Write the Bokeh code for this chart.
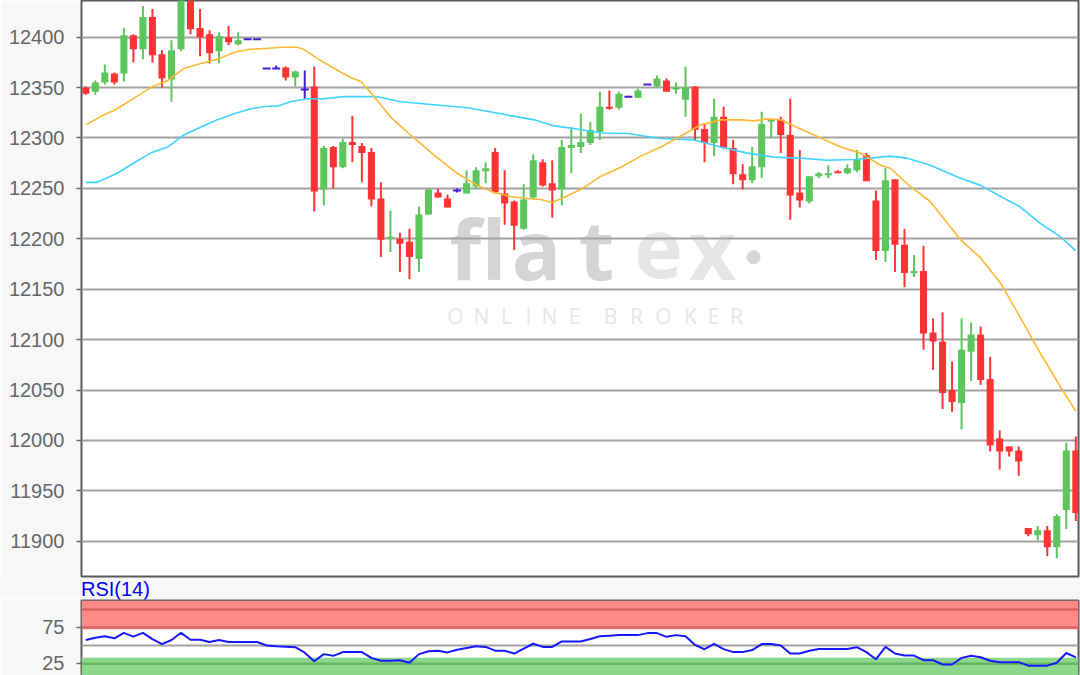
import numpy as np
from bokeh.plotting import figure
from bokeh.models import ColumnDataSource, FixedTicker, Range1d, Span, Div, Label, BoxAnnotation
from bokeh.layouts import column
from bokeh.embed import file_html
from bokeh.resources import INLINE

# ---------------- data ----------------
opens = [12350, 12346, 12355, 12364, 12364, 12402, 12388, 12420, 12383, 12358,
         12388, 12440, 12409, 12403, 12386, 12400, 12393, 12398, 12398, 12369,
         12369, 12370, 12360, 12348, 12351, 12249, 12291, 12271, 12296, 12292,
         12286, 12240, 12200, 12200, 12197, 12180, 12224, 12246, 12240, 12248,
         12245, 12252, 12267, 12286, 12245, 12237, 12210, 12241, 12276, 12255,
         12249, 12290, 12291, 12295, 12306, 12331, 12330, 12341, 12340, 12353,
         12351, 12357, 12348, 12338, 12351, 12309, 12295, 12321, 12290, 12264,
         12258, 12271, 12316, 12318, 12303, 12246, 12237, 12262, 12263, 12267,
         12265, 12268, 12283, 12238, 12188, 12259, 12194, 12166, 12168, 12107,
         12098, 12050, 12037, 12088, 12105, 12061, 12002, 11994, 11990, 11913,
         11906, 11911, 11894, 11931, 11990]
highs = [12351, 12357, 12373, 12365, 12409, 12403, 12431, 12428, 12387, 12397,
         12446, 12448, 12428, 12407, 12405, 12411, 12405, 12398, 12398, 12369,
         12372, 12371, 12367, 12367, 12371, 12292, 12292, 12299, 12322, 12295,
         12290, 12256, 12228, 12206, 12210, 12232, 12250, 12250, 12244, 12250,
         12268, 12271, 12276, 12290, 12268, 12238, 12254, 12284, 12279, 12278,
         12298, 12311, 12324, 12316, 12346, 12347, 12346, 12342, 12349, 12353,
         12362, 12359, 12355, 12371, 12351, 12315, 12339, 12331, 12298, 12274,
         12291, 12326, 12318, 12321, 12339, 12288, 12262, 12266, 12273, 12268,
         12274, 12288, 12285, 12248, 12270, 12259, 12210, 12184, 12193, 12121,
         12127, 12078, 12121, 12117, 12113, 12083, 12010, 11994, 11994, 11913,
         11915, 11915, 11927, 11998, 12004]
lows = [12343, 12343, 12353, 12353, 12356, 12375, 12378, 12375, 12350, 12336,
        12386, 12403, 12381, 12374, 12374, 12392, 12392, 12398, 12398, 12369,
        12369, 12357, 12351, 12339, 12227, 12233, 12250, 12270, 12276, 12256,
        12232, 12182, 12187, 12167, 12160, 12167, 12224, 12241, 12231, 12246,
        12245, 12250, 12255, 12245, 12214, 12189, 12209, 12239, 12252, 12221,
        12233, 12265, 12285, 12293, 12298, 12328, 12328, 12341, 12340, 12353,
        12350, 12346, 12344, 12321, 12298, 12276, 12282, 12289, 12254, 12249,
        12255, 12260, 12300, 12285, 12219, 12231, 12235, 12260, 12260, 12265,
        12264, 12266, 12257, 12179, 12177, 12167, 12152, 12162, 12090, 12070,
        12031, 12028, 12011, 12059, 12055, 11989, 11971, 11984, 11965, 11905,
        11901, 11885, 11883, 11912, 11920]
closes = [12344, 12355, 12365, 12355, 12402, 12388, 12420, 12382, 12359, 12387,
          12440, 12408, 12400, 12384, 12401, 12395, 12397, 12398, 12398, 12369,
          12369, 12360, 12366, 12348, 12247, 12290, 12271, 12296, 12293, 12285,
          12239, 12199, 12202, 12195, 12182, 12224, 12249, 12241, 12231, 12248,
          12255, 12268, 12270, 12246, 12235, 12213, 12239, 12278, 12253, 12248,
          12291, 12293, 12296, 12308, 12331, 12329, 12344, 12341, 12347, 12353,
          12359, 12346, 12350, 12350, 12308, 12295, 12321, 12290, 12264, 12258,
          12272, 12314, 12318, 12303, 12243, 12238, 12262, 12265, 12265, 12265,
          12270, 12279, 12257, 12188, 12258, 12194, 12166, 12168, 12106, 12098,
          12047, 12038, 12090, 12105, 12060, 11995, 11989, 11989, 11979, 11907,
          11911, 11894, 11925, 11990, 11928]

# short moving average (orange), read at bar positions
ma_fast_idx = [0, 1.5, 3.3, 5.0, 6.8, 8.6, 10.3, 12.1, 13.8, 15.6, 17.3, 19.1, 20.8, 22.2,
               22.9, 24.3, 26.1, 27.8, 28.9, 30.3, 32.0, 34.1, 36.6, 39.0, 41.1, 42.9,
               44.6, 46.4, 47.8, 49.0, 50.2, 52.0, 54.1, 56.2, 58.3, 60.4, 62.5, 64.6,
               66.7, 68.8, 70.2, 71.6, 73.0, 75.1, 77.2, 79.3, 81.4, 83.5, 84.5, 86.6,
               88.7, 91.9, 94.0, 96.1, 98.1, 100.3, 102.4, 104.0]
ma_fast = [12313, 12321, 12329, 12339, 12350, 12357, 12369, 12374, 12378, 12385, 12388,
           12389, 12390, 12390, 12388, 12379, 12369, 12360, 12356, 12341, 12321, 12303,
           12283, 12265, 12253, 12246, 12242, 12240, 12239, 12236, 12241, 12249, 12262,
           12271, 12282, 12291, 12302, 12313, 12318, 12318, 12317, 12319, 12318, 12309,
           12300, 12291, 12285, 12273, 12270, 12252, 12237, 12199, 12181, 12156, 12123,
           12086, 12053, 12029]

# long moving average (cyan)
ma_slow_idx = [0, 1.2, 3.3, 5.0, 6.8, 8.6, 10.3, 12.1, 13.8, 15.6, 17.3, 19.1, 20.1, 21.5,
               23.3, 25.0, 27.1, 30.6, 33.1, 36.6, 40.1, 43.6, 47.1, 49.2, 51.6, 54.1,
               56.9, 60.4, 63.9, 66.7, 69.5, 72.3, 75.1, 77.9, 80.7, 83.5, 84.5, 86.3,
               88.7, 91.9, 94.0, 96.1, 98.1, 100.3, 102.4, 104.0]
ma_slow = [12256, 12256, 12265, 12275, 12285, 12291, 12303, 12311, 12318, 12324, 12329,
           12331.5, 12331.5, 12336, 12339, 12339, 12341, 12341, 12336, 12333, 12330,
           12324, 12318, 12312, 12309, 12305, 12304.5, 12299.5, 12298, 12291, 12285,
           12281, 12280, 12278, 12278.6, 12281, 12282, 12280, 12273, 12260, 12253,
           12242, 12232, 12215, 12202, 12188]

# RSI(14), one value per bar
rsi = [57.6, 60.8, 62.8, 60.0, 67.6, 62.4, 67.6, 58.8, 52.0, 57.6,
       67.6, 58.0, 58.0, 54.8, 57.6, 54.8, 54.8, 54.8, 54.8, 50.0,
       48.8, 48.4, 47.6, 40.0, 28.0, 38.0, 35.6, 40.8, 40.8, 40.8,
       32.8, 28.8, 28.8, 29.6, 26.0, 38.0, 42.0, 42.8, 40.4, 44.0,
       46.5, 48.8, 48.0, 42.8, 42.8, 38.8, 45.6, 52.4, 48.0, 48.0,
       55.6, 55.6, 55.6, 59.0, 62.8, 63.6, 64.4, 64.4, 64.4, 67.2,
       67.2, 62.0, 64.4, 62.8, 50.8, 44.8, 52.4, 45.0, 40.8, 40.8,
       43.6, 52.0, 52.0, 50.0, 38.8, 38.8, 42.8, 45.2, 45.2, 45.2,
       45.2, 47.6, 40.8, 30.8, 48.0, 38.8, 36.0, 36.0, 29.6, 29.6,
       23.6, 23.6, 32.8, 35.6, 33.6, 28.8, 26.8, 26.8, 26.8, 22.0,
       22.0, 22.0, 26.0, 39.6, 33.6]

price_ticks = [11900, 11950, 12000, 12050, 12100, 12150, 12200, 12250, 12300, 12350, 12400]
rsi_ticks = [25, 75]
rsi_mid = 50
rsi_upper = [75, 100]
rsi_lower = 25
rsi_title = "RSI(14)"
logo_main = ["f", "l", "a", "t", "e", "x"]
logo_sub = "ONLINE BROKER"

# ---------------- layout constants (window pixels) ----------------
W = 1080
FRAME_L, FRAME_R = 81, 1078
FRAME_TOP = 0
MAIN_FRAME_H = 576
MAIN_H = MAIN_FRAME_H + 2
GAP_H = 21
RSI_H = 675 - MAIN_H - GAP_H   # 76
XR = (-0.452, 104.28)
YR = (11865.0, 12436.4)
RSI_R = (8.3, 112.5)

UP, DOWN, DOJI = "#5cc55c", "#ff3333", "#4020d0"
BG = "#f7f7f7"
GRID = "#a2a2a2"
FRAME = "#5a5a5a"
TXT = "#666666"
FONT = "Liberation Sans"

o = np.array(opens, float)
h = np.array(highs, float)
l = np.array(lows, float)
c = np.array(closes, float)
idx = np.arange(len(o))
col = [UP if cc > oo else (DOWN if cc < oo else DOJI) for oo, cc in zip(o, c)]

src = ColumnDataSource(dict(x=idx, h=h, l=l, col=col))
body_mask = np.array([cc != oo for oo, cc in zip(o, c)])
body_src = ColumnDataSource(dict(x=idx[body_mask], top=np.maximum(o, c)[body_mask],
                                 bot=np.minimum(o, c)[body_mask],
                                 col=[cl for cl, m in zip(col, body_mask) if m]))
doji_src = ColumnDataSource(dict(x=idx[~body_mask], y=o[~body_mask]))


def style_axis(fig, ticks):
    fig.yaxis.ticker = FixedTicker(ticks=ticks)
    fig.yaxis.axis_line_color = None
    fig.yaxis.major_tick_out = 5
    fig.yaxis.major_tick_in = 0
    fig.yaxis.minor_tick_line_color = None
    fig.yaxis.major_tick_line_color = TXT
    fig.yaxis.major_tick_line_width = 1.5
    fig.yaxis.major_label_text_font = FONT
    fig.yaxis.major_label_text_font_size = "20px"
    fig.yaxis.major_label_text_color = TXT
    fig.yaxis.major_label_standoff = 12


# ---------------- main price panel ----------------
p = figure(width=W, height=MAIN_H, x_range=Range1d(*XR), y_range=Range1d(*YR),
           output_backend="svg", toolbar_location=None, title=None,
           x_axis_location=None, min_border_left=FRAME_L, min_border_right=W - FRAME_R,
           min_border_top=0, min_border_bottom=2,
           background_fill_color="white", border_fill_color=BG,
           outline_line_color=FRAME, outline_line_width=2)
style_axis(p, price_ticks)
p.xgrid.visible = False
p.ygrid.ticker = FixedTicker(ticks=price_ticks)
p.ygrid.grid_line_color = GRID
p.ygrid.grid_line_width = 2


def px_x(px):
    return XR[0] + (px - FRAME_L) * (XR[1] - XR[0]) / (FRAME_R - FRAME_L)


def px_y(py):
    return YR[1] - (py - FRAME_TOP) * (YR[1] - YR[0]) / MAIN_FRAME_H


# watermark (under the grid); label anchor sits ~0.37 em below the glyph baseline
logo_px = [465, 493.5, 536, 596, 658, 712]
for ch, xp in zip(logo_main, logo_px):
    p.add_layout(Label(x=px_x(xp), y=px_y(247), text=ch, text_font="Open Sans",
                       text_font_size="82px", text_font_style="bold", text_align="center",
                       text_baseline="alphabetic",
                       text_color="#d4d4d4" if ch in "flat" else "#e6e6e6", level="image"))
dot = p.scatter([px_x(753)], [px_y(256.7)], size=13, color="#d6d6d6")
dot.level = "image"
sub_px = [455, 481, 506, 528, 549, 574, 610, 636, 663, 690, 713, 736]
for ch, xp in zip(logo_sub.replace(" ", ""), sub_px):
    p.add_layout(Label(x=px_x(xp), y=px_y(315), text=ch, text_font="Open Sans",
                       text_font_size="21px", text_align="center", text_baseline="alphabetic",
                       text_color="#e6e6e6", level="image"))

p.segment(x0="x", y0="l", x1="x", y1="h", line_color="col", line_width=2, source=src)
p.vbar(x="x", width=0.74, top="top", bottom="bot", fill_color="col", line_color=None,
       source=body_src)
p.rect(x="x", y="y", width=0.84, height=2, height_units="screen", fill_color=DOJI,
       line_color=None, source=doji_src)

p.line(ma_slow_idx, ma_slow, line_color="#3fd3ff", line_width=1.6)
p.line(ma_fast_idx, ma_fast, line_color="#ffb833", line_width=1.6)

# ---------------- label strip ----------------
div = Div(text=f'<div style="padding-left:{FRAME_L}px;padding-top:2px;font-family:'
               f'\'Liberation Sans\',Arial,sans-serif;font-size:20px;line-height:{GAP_H - 2}px;'
               f'color:#0000ff;white-space:nowrap;">{rsi_title}</div>',
          width=W, height=GAP_H, margin=0, styles={"background-color": BG})

# ---------------- RSI panel ----------------
r = figure(width=W, height=RSI_H, x_range=p.x_range, y_range=Range1d(*RSI_R),
           output_backend="svg", toolbar_location=None, title=None,
           x_axis_location=None, min_border_left=FRAME_L, min_border_right=W - FRAME_R,
           min_border_top=1, min_border_bottom=0,
           background_fill_color="white", border_fill_color=BG,
           outline_line_color=FRAME, outline_line_width=2)
style_axis(r, rsi_ticks)
r.xgrid.visible = False
r.ygrid.visible = False
r.add_layout(BoxAnnotation(bottom=rsi_upper[0] - 2.5, fill_color="#ff8a8a", fill_alpha=1,
                           line_color=None, level="underlay"))
for v in rsi_upper:
    r.add_layout(Span(location=v, dimension="width", line_color="#dc6262",
                      line_width=2.5, level="underlay"))
r.add_layout(BoxAnnotation(top=rsi_lower + 8, fill_color="#8dd78d", fill_alpha=1,
                           line_color=None, level="underlay"))
r.add_layout(Span(location=rsi_lower - 0.5, dimension="width", line_color="#62b862",
                  line_width=2.5, level="underlay"))
r.add_layout(Span(location=rsi_mid, dimension="width", line_color=GRID, line_width=2,
                  level="underlay"))
r.line(idx, rsi, line_color="#1818ff", line_width=2)

layout = column(p, div, r, spacing=0)

open("out.html", "w").write(file_html(layout, INLINE))
